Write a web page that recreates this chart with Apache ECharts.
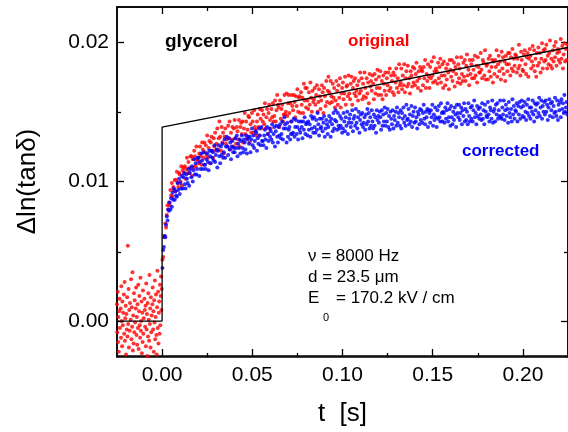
<!DOCTYPE html>
<html>
<head>
<meta charset="utf-8">
<script src="https://cdn.jsdelivr.net/npm/echarts@6/dist/echarts.min.js"></script>
<style>
  html, body { margin: 0; padding: 0; background: #fff; overflow: hidden; }
  #chart { width: 568px; height: 432px; }
</style>
</head>
<body>
<div id="chart"></div>
<script>
// Δln(tanδ) of glycerol after the field step at t = 0 (ν = 8000 Hz).
// Sample values below are stored in units of 1e-4.
const UNIT = 1e-4;

// before the step: sampled every 0.2 ms starting at -25 ms
const beforeStart = -0.025;
const beforeStep = 0.0002;
const originalBefore = [
  12, -8, 21, -15, 3, -22, 7, 16, -5, -28,
  9, -12, 25, 0, -18, 14, -3, 6, -30, 19,
  -9, 28, -14, 2, 11, -24, 5, -6, 17, -11,
  54, -2, 23, -19, 8, -7, 13, -26, 1, 30,
  -13, 10, -4, 35, -21, 4, -16, 20, -8, 15,
  -1, -27, 9, 24, -10, 3, -17, 12, -5, 26,
  -20, 7, 18, -3, -12, 31, -7, 0, 14, -23,
  6, -15, 22, -9, 2, -31, 16, 8, -4, 11,
  -18, 27, -6, 5, -25, 13, -11, 20, 1, -14,
  33, -2, 9, -19, 17, -8, 4, -29, 12, 24,
  -6, 7, -22, 15, -1, 29, -13, 3, 19, -10,
  -24, 10, 36, -5, 21, -16, 6, 14, -9, 26,
  -3, 18, 32, 8, 23
];

// after the step: sampled every 0.4 ms starting at 0.2 ms
const afterStart = 0.0002;
const afterStep = 0.0004;
const originalAfter = [
  44,46,60,61,70,67,76,83,80,85,
  83,94,90,99,89,96,94,101,93,101,
  107,99,96,106,105,100,111,97,108,110,
  106,111,102,109,117,106,114,106,110,118,
  118,104,116,110,122,118,111,125,116,115,
  113,120,125,118,112,128,123,117,128,121,
  126,119,133,117,124,129,113,128,132,122,
  117,131,125,135,122,127,138,123,131,143,
  132,122,139,128,135,120,132,138,127,130,
  125,140,131,143,123,135,130,139,125,138,
  144,131,127,139,136,130,144,125,139,142,
  134,143,128,138,149,134,143,131,137,147,
  146,128,141,135,149,143,135,151,139,137,
  133,143,148,139,133,152,145,138,151,143,
  148,141,156,138,146,152,134,149,155,144,
  138,152,146,156,143,147,158,143,151,162,
  155,153,139,158,145,152,155,143,148,162,
  148,150,163,147,156,162,149,156,143,162,
  154,151,162,157,146,161,154,166,150,160,
  161,149,164,155,160,149,170,158,167,153,
  167,158,152,164,155,171,160,150,165,157,
  159,167,155,162,169,150,157,166,161,152,
  158,169,164,149,167,161,154,172,157,165,
  175,164,156,172,161,157,170,160,167,153,
  158,172,165,155,169,160,174,153,163,167,
  171,159,163,175,155,168,169,161,176,163,
  159,170,175,155,167,172,163,174,161,165,
  169,158,172,163,178,165,174,159,170,161,
  178,167,160,174,163,171,156,177,168,172,
  165,176,170,159,177,163,173,167,180,162,
  175,167,179,162,172,159,176,170,165,178,
  162,174,169,178,165,181,167,176,172,164,
  178,162,176,171,181,167,174,164,184,169,
  171,181,166,176,169,184,164,174,179,168,
  183,170,174,163,179,176,168,182,171,181,
  169,177,185,172,167,179,174,182,165,180,
  179,169,182,174,187,167,177,172,184,175,
  167,182,174,186,176,171,189,179,172,181,
  179,170,185,174,182,188,171,176,184,167,
  186,176,169,181,173,184,178,166,187,180,
  175,187,172,179,185,168,182,177,189,171,
  184,174,181,170,189,177,172,185,175,187,
  172,183,191,176,180,169,187,177,184,174,
  187,180,174,190,176,183,171,189,182,178,
  178,192,180,174,187,185,176,194,173,183,
  184,173,188,179,190,175,182,187,171,186,
  177,187,182,194,175,184,190,179,186,173,
  193,181,189,177,186,172,190,184,179,192,
  184,192,176,189,181,195,179,188,183,191,
  190,178,188,181,198,183,176,193,187,180,
  179,191,194,184,177,189,192,175,188,195,
  190,181,186,197,183,194,179,188,175,192,
  183,196,185,192,178,188,199,181,194,186,
  195,187,198,181,190,184,192,201,183,188,
  181,194,186,197,189,200,183,192,195,187,
  193,185,202,188,197,181,191,199,186,195,
  187,198
];
const corrected = [
  38,51,53,61,60,69,75,72,80,79,
  85,80,88,82,92,87,95,87,93,90,
  89,99,94,102,91,99,95,104,95,103,
  106,98,95,105,102,99,109,97,106,109,
  103,111,100,108,116,105,113,105,109,117,
  117,104,114,109,120,115,109,121,112,112,
  109,116,120,114,108,122,118,113,122,117,
  121,115,126,114,119,123,110,122,126,118,
  113,125,119,127,117,121,130,117,125,132,
  125,119,131,123,128,116,125,129,121,124,
  121,131,124,133,118,127,124,130,120,129,
  133,124,121,130,128,123,133,120,130,132,
  127,132,121,130,138,126,133,124,129,136,
  135,122,131,127,138,133,126,139,129,129,
  126,133,137,130,124,139,134,129,138,132,
  136,130,141,128,134,139,125,136,140,132,
  128,139,133,141,131,134,143,130,138,146,
  141,138,128,142,132,137,139,130,134,143,
  134,135,145,132,139,144,134,139,130,143,
  137,135,143,139,131,143,137,146,134,141,
  142,133,143,137,141,132,147,138,145,135,
  146,139,135,144,137,149,141,133,145,138,
  139,145,136,142,147,132,138,144,141,134,
  139,147,143,132,145,141,136,149,138,144,
  151,143,137,149,140,138,147,140,145,135,
  138,149,143,136,146,140,150,134,142,145,
  148,139,142,151,136,145,147,140,152,142,
  138,146,150,135,144,148,141,149,139,142,
  146,137,148,141,152,143,149,138,146,140,
  151,143,138,148,140,146,135,151,144,147,
  142,150,146,137,151,140,148,143,153,140,
  149,143,152,139,147,137,150,145,141,151,
  138,147,144,150,140,153,142,149,146,140,
  151,138,149,145,153,142,147,140,155,144,
  145,152,141,148,143,154,139,147,150,142,
  153,143,146,138,150,148,141,152,144,151,
  142,149,155,145,141,150,146,152,139,151,
  149,142,151,146,155,140,148,144,153,146,
  139,151,145,154,146,143,156,149,143,150,
  149,142,153,145,151,156,143,146,152,140,
  154,146,141,150,144,153,148,139,155,149,
  146,155,144,149,153,141,151,147,156,143,
  152,144,150,141,156,147,143,153,145,154,
  143,151,158,146,149,141,154,147,152,145,
  153,148,144,156,145,151,141,155,150,147,
  146,157,148,143,153,151,145,158,142,150,
  152,143,155,148,156,145,151,147,158,146,
  145,153,148,158,144,151,155,147,152,142,
  157,149,146,152,143,159,148,154,145,151,
  150,156,143,154,148,157,145,153,158,147,
  154,146,157,150,144,155,149,159,147,153,
  145,153,150,158,148,143,156,151,155,146,
  156,149,160,147,153,158,145,154,150,157,
  148,158,150,155,144,153,159,147,156,151,
  157,146,154,149,160,150,147,158,144,155,
  151,157,146,159,152,156,149,162,150,153,
  157,148
];

// model curve: step at t = 0 followed by a linear rise
const modelT = [-0.025, 0, 0, 0.225];
const modelY = [0, 0, 0.0139, 0.0196];

// axis ranges and ticks
const xMin = -0.025, xMax = 0.225;
const yMin = -0.0025, yMax = 0.0225;
const xMajorTicks = [0, 0.05, 0.10, 0.15, 0.20];
const xMinorTicks = [0.025, 0.075, 0.125, 0.175];
const yMajorTicks = [0, 0.01, 0.02];
const yMinorTicks = [0.005, 0.015];

const FONT = '"Liberation Sans", Arial, Helvetica, sans-serif';

function toPoints(values, start, step) {
  return values.map((v, i) => [start + i * step, v * UNIT]);
}
const originalPoints = toPoints(originalBefore, beforeStart, beforeStep)
  .concat(toPoints(originalAfter, afterStart, afterStep));
const correctedPoints = toPoints(corrected, afterStart, afterStep);
const modelPoints = modelT.map((t, i) => [t, modelY[i]]);

const frame = { show: true, onZero: false, lineStyle: { color: '#000', width: 1.5 } };
const labelStyle = { fontSize: 21, fontFamily: FONT, color: '#000' };

function makeAxis(range, grid, position, ticks, len, withLabels, margin, extra) {
  return Object.assign({
    type: 'value', gridIndex: grid, position: position,
    min: range[0], max: range[1],
    axisLine: frame,
    axisTick: { show: true, inside: true, length: len, customValues: ticks,
                lineStyle: { color: '#000', width: 1.3 } },
    axisLabel: withLabels
      ? Object.assign({ show: true, margin: margin, customValues: ticks,
                        formatter: v => v.toFixed(2) }, labelStyle)
      : { show: false },
    splitLine: { show: false }
  }, extra || {});
}
const xr = [xMin, xMax], yr = [yMin, yMax];

const gridRect = { left: 117, top: 7, width: 453, height: 350 };

const option = {
  animation: false,
  backgroundColor: '#fff',
  grid: [Object.assign({}, gridRect), Object.assign({}, gridRect)],
  xAxis: [
    makeAxis(xr, 0, 'bottom', xMajorTicks, 7, true, 9, {
      name: 't  [s]', nameLocation: 'middle', nameGap: 45,
      nameTextStyle: { fontSize: 26, fontFamily: FONT, color: '#000' }
    }),
    makeAxis(xr, 0, 'top', xMajorTicks, 7, false),
    makeAxis(xr, 1, 'bottom', xMinorTicks, 4, false),
    makeAxis(xr, 1, 'top', xMinorTicks, 4, false)
  ],
  yAxis: [
    makeAxis(yr, 0, 'left', yMajorTicks, 7, true, 8, {
      name: 'Δln(tanδ)', nameLocation: 'middle', nameGap: 76,
      nameTextStyle: { fontSize: 26, fontFamily: FONT, color: '#000' }
    }),
    makeAxis(yr, 0, 'right', yMajorTicks, 7, false),
    makeAxis(yr, 1, 'left', yMinorTicks, 4, false),
    makeAxis(yr, 1, 'right', yMinorTicks, 4, false)
  ],
  series: [
    {
      name: 'original', type: 'scatter', xAxisIndex: 0, yAxisIndex: 0,
      data: originalPoints, symbol: 'circle', symbolSize: 4,
      itemStyle: { color: '#ff0000' }, z: 2
    },
    {
      name: 'corrected', type: 'scatter', xAxisIndex: 0, yAxisIndex: 0,
      data: correctedPoints, symbol: 'circle', symbolSize: 4,
      itemStyle: { color: '#0000ff' }, z: 3
    },
    {
      name: 'model', type: 'line', xAxisIndex: 0, yAxisIndex: 0,
      data: modelPoints, showSymbol: false, symbol: 'none',
      lineStyle: { color: '#000', width: 1.3 }, z: 4
    }
  ],
  graphic: [
    { type: 'text', left: 165, top: 32,
      style: { text: 'glycerol', font: 'bold 19px ' + FONT, fill: '#000' } },
    { type: 'text', left: 348, top: 33,
      style: { text: 'original', font: 'bold 17px ' + FONT, fill: '#ff0000' } },
    { type: 'text', left: 462, top: 143,
      style: { text: 'corrected', font: 'bold 17px ' + FONT, fill: '#0000ff' } },
    { type: 'text', left: 308, top: 248,
      style: { text: 'ν = 8000 Hz', font: '17px ' + FONT, fill: '#000' } },
    { type: 'text', left: 308, top: 269,
      style: { text: 'd = 23.5 μm', font: '17px ' + FONT, fill: '#000' } },
    { type: 'text', left: 308, top: 290,
      style: { text: 'E', font: '17px ' + FONT, fill: '#000' } },
    { type: 'text', left: 323, top: 312,
      style: { text: '0', font: '11px ' + FONT, fill: '#000' } },
    { type: 'text', left: 336, top: 290,
      style: { text: '= 170.2 kV / cm', font: '17px ' + FONT, fill: '#000' } }
  ]
};

const chart = echarts.init(document.getElementById('chart'), null, { renderer: 'canvas' });
chart.setOption(option);
</script>
</body>
</html>
